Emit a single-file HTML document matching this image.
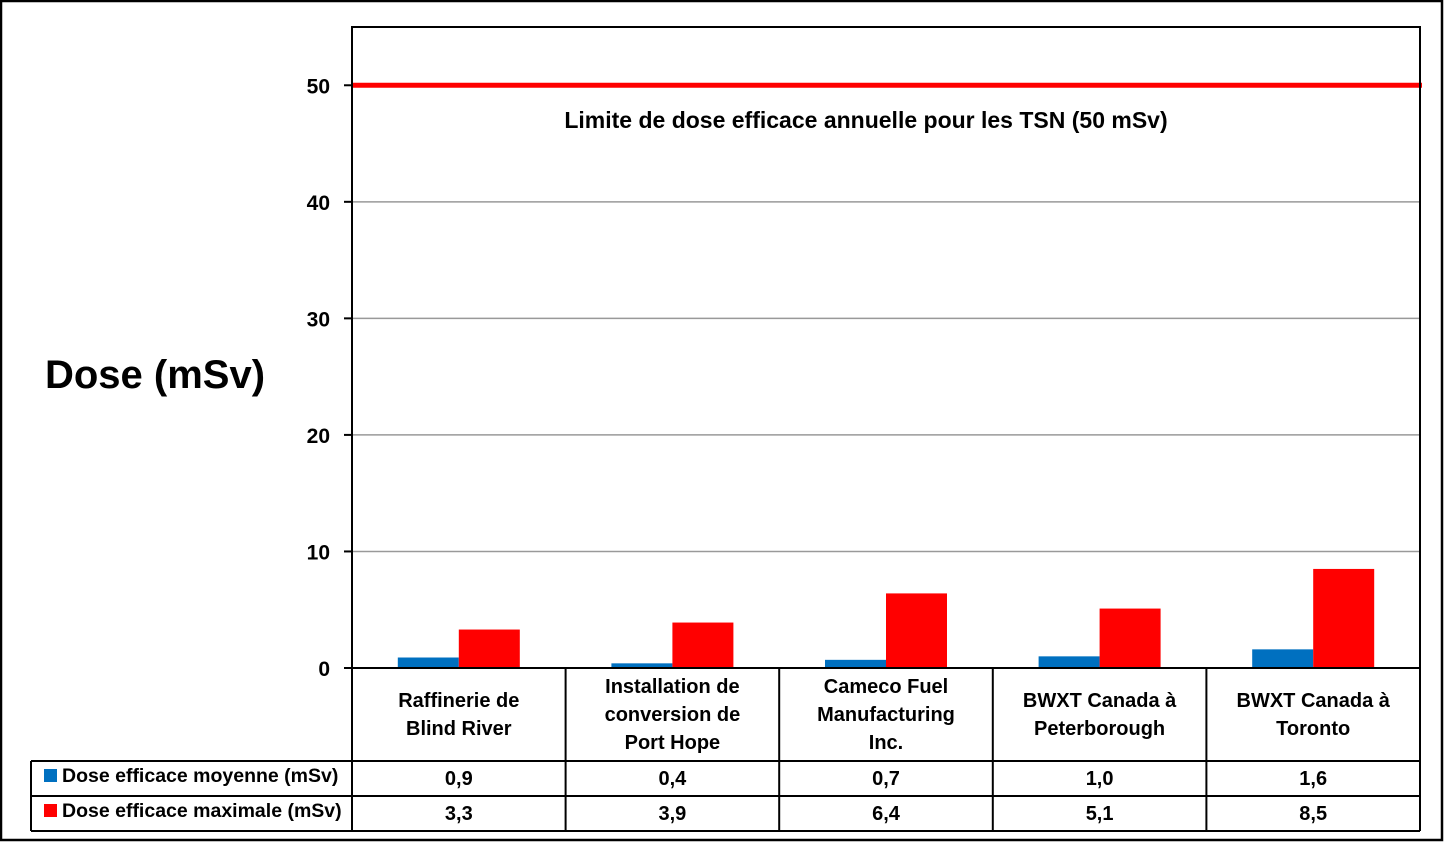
<!DOCTYPE html>
<html><head><meta charset="utf-8"><style>
body{margin:0;background:#fff;}
svg{display:block;font-family:"Liberation Sans",Calibri,sans-serif;font-weight:bold;}
</style></head><body>
<svg id="chart" width="1444" height="842" viewBox="0 0 1444 842">
<rect x="1" y="1" width="1441" height="839" fill="#fff" stroke="#000" stroke-width="2.5"/>
<g id="grid"></g><g id="bars"></g><g id="table"></g><g id="axis"></g>
<text x="155" y="388" font-size="40" text-anchor="middle">Dose (mSv)</text>
<text x="866" y="128" font-size="23" text-anchor="middle">Limite de dose efficace annuelle pour les TSN (50 mSv)</text>
</svg>
<script>
const categories=[["Raffinerie de","Blind River"],["Installation de","conversion de","Port Hope"],["Cameco Fuel","Manufacturing","Inc."],["BWXT Canada à","Peterborough"],["BWXT Canada à","Toronto"]];
const avgValues=[0.9,0.4,0.7,1.0,1.6];
const maxValues=[3.3,3.9,6.4,5.1,8.5];
const yTicks=[0,10,20,30,40,50];
const limitValue=50;
const seriesNames=["Dose efficace moyenne (mSv)","Dose efficace maximale (mSv)"];
const NS="http://www.w3.org/2000/svg";
const L=352,R=1420,T=27,B=668,YMAX=55;
const y=v=>B-v/YMAX*(B-T);
const bw=(R-L)/categories.length;
const x=i=>L+i*bw;
function mk(tag,attrs,parent,text){const e=document.createElementNS(NS,tag);for(const k in attrs)e.setAttribute(k,attrs[k]);if(text!==undefined)e.textContent=text;parent.appendChild(e);return e;}
const grid=document.getElementById('grid'),bars=document.getElementById('bars'),tbl=document.getElementById('table'),ax=document.getElementById('axis');
yTicks.forEach(t=>{
 if(t>0){const g=mk('line',{x1:L,x2:R,y1:y(t),y2:y(t),stroke:'#999','stroke-width':1.5},grid);
 
 }
 const tk=mk('line',{x1:L-8,x2:L,y1:y(t),y2:y(t),stroke:'#000','stroke-width':2},ax);
 
 
 const lb=mk('text',{x:330,y:y(t)+8,'font-size':21,'text-anchor':'end'},ax,String(t));
 
 
});
const barW=61;
categories.forEach((c,i)=>{
 const cx=x(i)+bw/2;
 const b1=mk('rect',{x:cx-barW,y:y(avgValues[i]),width:barW,height:B-y(avgValues[i]),fill:'#0070C0'},bars);
 
 
 const b2=mk('rect',{x:cx,y:y(maxValues[i]),width:barW,height:B-y(maxValues[i]),fill:'#FF0000'},bars);
 
 
 const n=c.length,startY=n===3?693:707;
 c.forEach((ln,k)=>{const t=mk('text',{x:cx,y:startY+k*28,'font-size':20,'text-anchor':'middle'},tbl,ln);
 
 });
 const v1=mk('text',{x:cx,y:785,'font-size':20,'text-anchor':'middle'},tbl,avgValues[i].toFixed(1).replace('.',','));
 
 
 const v2=mk('text',{x:cx,y:820,'font-size':20,'text-anchor':'middle'},tbl,maxValues[i].toFixed(1).replace('.',','));
 
 
});
const lim=mk('line',{x1:L,x2:R+2,y1:y(limitValue),y2:y(limitValue),stroke:'#FF0000','stroke-width':5},ax);


// plot frame
const pf=mk('path',{d:`M${L},${B}V${T}H${R}V${B}`,fill:'none',stroke:'#000','stroke-width':2},ax);


// table lines
const tl=[[L,B,R,B],[31,761,R,761],[31,796,R,796],[31,831,R,831],[31,761,31,831],[R,B,R,831]];
for(let i=0;i<=categories.length;i++)tl.push([x(i),B,x(i),831]);
tl.forEach(a=>{const l=mk('line',{x1:a[0],y1:a[1],x2:a[2],y2:a[3],stroke:'#000','stroke-width':2},tbl);
 
 });
const cols=['#0070C0','#FF0000'];
seriesNames.forEach((s,k)=>{
 const ry=k?804:769;
 const sw=mk('rect',{x:44,y:ry,width:13,height:13,fill:cols[k]},tbl);
 
 
 const t=mk('text',{x:62,y:ry+13,'font-size':19.5},tbl,s);
 
 
});
</script>
</body></html>
